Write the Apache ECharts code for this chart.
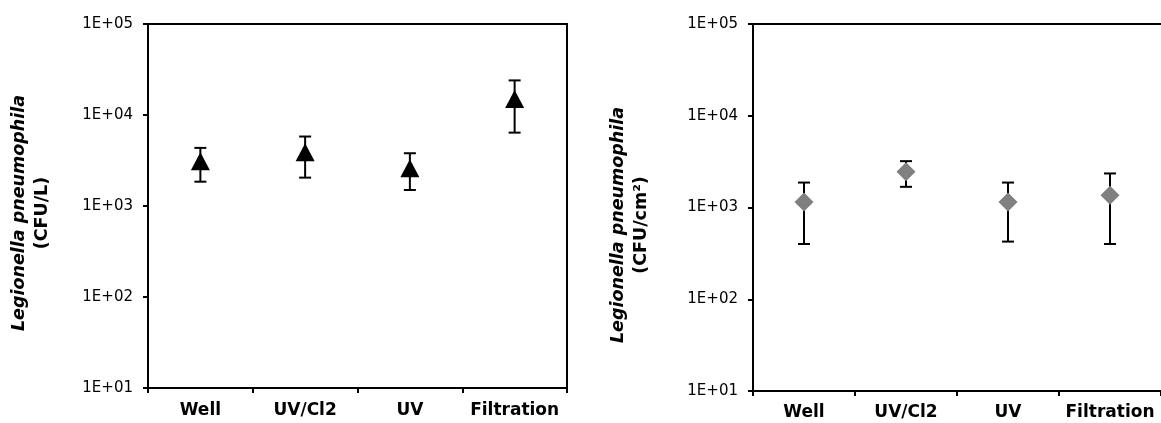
<!DOCTYPE html>
<html>
<head>
<meta charset="utf-8">
<script src="https://cdn.jsdelivr.net/npm/echarts@6/dist/echarts.min.js"></script>
<style>
  html, body { margin: 0; padding: 0; background: #fff; }
  #chart { width: 1161px; height: 423px; }
</style>
</head>
<body>
<div id="chart"></div>
<script>
// Treatment categories shared by both panels
const categories = ['Well', 'UV/Cl2', 'UV', 'Filtration'];

// Log-axis tick labels, 10^1 .. 10^5
const yTickLabels = ['1E+01', '1E+02', '1E+03', '1E+04', '1E+05'];

// Water samples (CFU/L): mean, lower and upper error limits
const waterMean = [3100, 3900, 2600, 15000];
const waterLow  = [1850, 2050, 1500, 6400];
const waterHigh = [4350, 5800, 3800, 24000];

// Biofilm samples (CFU/cm²): mean, lower and upper error limits
const biofilmMean = [1150, 2450, 1150, 1360];
const biofilmLow  = [400, 1680, 425, 400];
const biofilmHigh = [1870, 3200, 1870, 2350];

// Axis titles: organism name (italic) and unit line
const organism = 'Legionella pneumophila';
const waterUnit = '(CFU/L)';
const biofilmUnit = '(CFU/cm²)';

const FONT = '"DejaVu Sans", Verdana, sans-serif';

function tickLabel(v) {
  const i = Math.round(Math.log10(v)) - 1;
  return yTickLabels[i] !== undefined ? yTickLabels[i] : '';
}

function errorBarData(low, high) {
  return low.map((l, i) => [i, l, high[i]]);
}

function renderErrorBar(params, api) {
  const x = api.value(0);
  const pLow = api.coord([x, api.value(1)]);
  const pHigh = api.coord([x, api.value(2)]);
  const half = 6;
  const style = { stroke: '#000', lineWidth: 2, fill: null };
  return {
    type: 'group',
    children: [
      { type: 'line', shape: { x1: pLow[0], y1: pLow[1], x2: pHigh[0], y2: pHigh[1] }, style },
      { type: 'line', shape: { x1: pHigh[0] - half, y1: pHigh[1], x2: pHigh[0] + half, y2: pHigh[1] }, style },
      { type: 'line', shape: { x1: pLow[0] - half, y1: pLow[1], x2: pLow[0] + half, y2: pLow[1] }, style }
    ]
  };
}

function xAxisFor(gridIndex, margin) {
  return {
    type: 'category',
    gridIndex,
    data: categories,
    boundaryGap: true,
    axisLine: { lineStyle: { color: '#000', width: 2 } },
    axisTick: { show: true, length: 5, lineStyle: { color: '#000', width: 2 } },
    axisLabel: { interval: 0, color: '#000', fontFamily: FONT, fontWeight: 'bold', fontSize: 17, margin },
    splitLine: { show: false }
  };
}

function yAxisFor(gridIndex) {
  return {
    type: 'log',
    logBase: 10,
    gridIndex,
    min: 10,
    max: 100000,
    axisLine: { show: true, lineStyle: { color: '#000', width: 2 } },
    axisTick: { show: true, length: 5, lineStyle: { color: '#000', width: 2 } },
    minorTick: { show: false },
    splitLine: { show: false },
    axisLabel: { color: '#000', fontFamily: FONT, fontSize: 15, margin: 15, formatter: tickLabel }
  };
}

// Two-line rotated axis title
function axisTitle(x, y, unit) {
  return {
    type: 'text',
    x, y,
    rotation: Math.PI / 2,
    style: {
      text: '{i|' + organism + '}\n{b|' + unit + '}',
      align: 'center',
      verticalAlign: 'middle',
      rich: {
        i: { fontFamily: FONT, fontStyle: 'italic', fontWeight: 'bold', fontSize: 17.5, fill: '#000', lineHeight: 23, align: 'center' },
        b: { fontFamily: FONT, fontWeight: 'bold', fontSize: 17.5, fill: '#000', lineHeight: 23, align: 'center' }
      }
    }
  };
}

const chart = echarts.init(document.getElementById('chart'), null, { renderer: 'canvas' });

chart.setOption({
  backgroundColor: '#fff',
  animation: false,
  grid: [
    { left: 148, top: 24, width: 419, height: 364, show: true, borderColor: '#000', borderWidth: 2, backgroundColor: 'transparent' },
    // right panel runs off the canvas edge: only its top frame line is drawn
    { left: 753, top: 24, width: 410, height: 367, show: false }
  ],
  xAxis: [
    xAxisFor(0, 14),
    xAxisFor(1, 13),
    {
      type: 'category', gridIndex: 1, position: 'top', data: categories,
      axisLine: { lineStyle: { color: '#000', width: 2 } },
      axisTick: { show: false }, axisLabel: { show: false }, splitLine: { show: false }
    }
  ],
  yAxis: [yAxisFor(0), yAxisFor(1)],
  graphic: [
    axisTitle(31, 213, waterUnit),
    axisTitle(630, 225, biofilmUnit)
  ],
  series: [
    {
      type: 'custom',
      xAxisIndex: 0, yAxisIndex: 0,
      renderItem: renderErrorBar,
      encode: { x: 0, y: [1, 2] },
      data: errorBarData(waterLow, waterHigh),
      z: 2
    },
    {
      type: 'scatter',
      xAxisIndex: 0, yAxisIndex: 0,
      symbol: 'triangle',
      symbolSize: [19, 18],
      itemStyle: { color: '#000', opacity: 1 },
      data: waterMean,
      z: 3
    },
    {
      type: 'custom',
      xAxisIndex: 1, yAxisIndex: 1,
      renderItem: renderErrorBar,
      encode: { x: 0, y: [1, 2] },
      data: errorBarData(biofilmLow, biofilmHigh),
      z: 2
    },
    {
      type: 'scatter',
      xAxisIndex: 1, yAxisIndex: 1,
      symbol: 'diamond',
      symbolSize: [19, 19],
      itemStyle: { color: '#808080', opacity: 1 },
      data: biofilmMean,
      z: 3
    }
  ]
});
</script>
</body>
</html>
